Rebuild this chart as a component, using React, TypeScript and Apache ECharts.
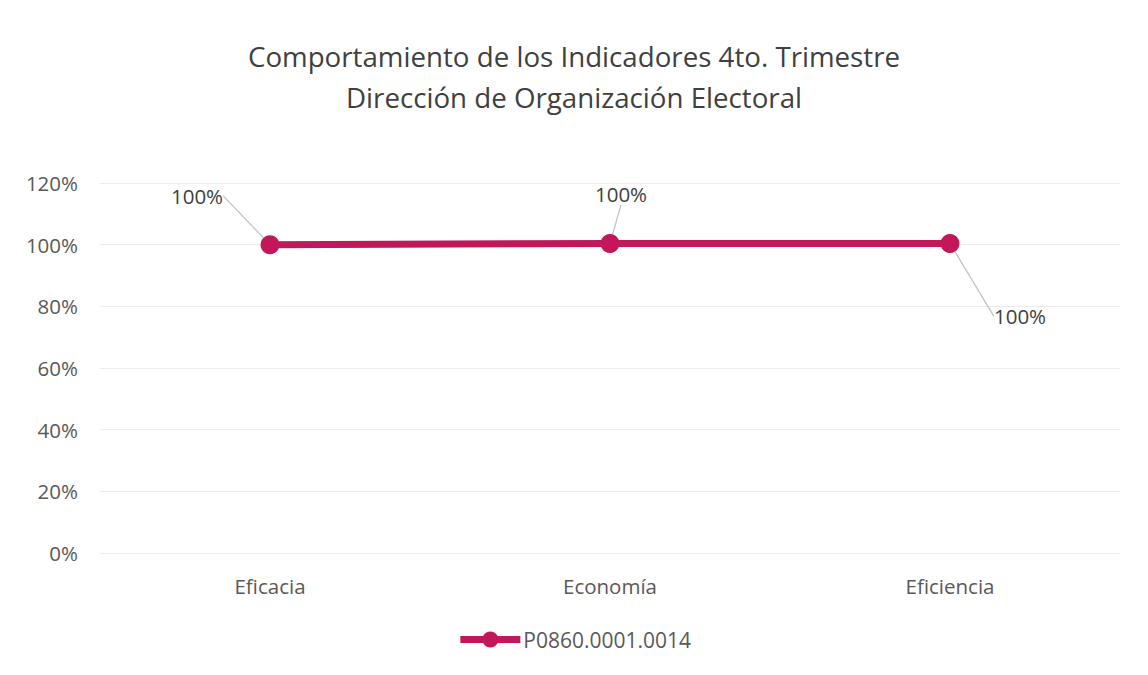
import React, { useEffect, useRef } from "react";
import * as echarts from "echarts";

const titleLines = [
  "Comportamiento de los Indicadores 4to. Trimestre",
  "Dirección de Organización Electoral",
];
const categories = ["Eficacia", "Economía", "Eficiencia"];
const seriesName = "P0860.0001.0014";
const values = [1.0, 1.004, 1.004];
const yTicks = { min: 0, max: 1.2, interval: 0.2 };
const labelShift = [
  { dx: -73, dy: -24 },
  { dx: 11, dy: -24 },
  { dx: 70, dy: 98 },
];

const FONT = "'Open Sans', 'Noto Sans', sans-serif";
const COLOR = "#C2185B";

export default function App() {
  const ref = useRef<HTMLDivElement>(null);
  useEffect(() => {
    if (!ref.current) return;
    const chart = echarts.init(ref.current, undefined, { renderer: "svg" });
    chart.setOption({
      animation: false,
      backgroundColor: "#ffffff",
      title: {
        text: titleLines.join("\n"),
        left: "center",
        top: 30,
        textStyle: {
          fontFamily: FONT,
          fontSize: 27.7,
          fontWeight: "normal",
          color: "#404040",
          lineHeight: 41,
        },
      },
      grid: { left: 100, right: 28, top: 183, bottom: 122 },
      legend: {
        bottom: 20,
        left: "center",
        itemWidth: 60,
        itemHeight: 20,
        itemGap: 2,
        lineStyle: { width: 7 },
        textStyle: { fontFamily: FONT, fontSize: 21, color: "#595959", padding: [0, 0, 0, -2] },
        data: [seriesName],
      },
      xAxis: {
        type: "category",
        data: categories,
        axisLine: { show: false },
        axisTick: { show: false },
        axisLabel: { fontFamily: FONT, fontSize: 20.5, color: "#595959", margin: 22 },
      },
      yAxis: {
        type: "value",
        min: yTicks.min,
        max: yTicks.max,
        interval: yTicks.interval,
        axisLine: { show: false },
        axisTick: { show: false },
        splitLine: { lineStyle: { color: "#ececec", width: 1 } },
        axisLabel: {
          fontFamily: FONT,
          fontSize: 20.5,
          color: "#595959",
          margin: 22,
          formatter: (v: number) => Math.round(v * 100) + "%",
        },
      },
      series: [
        {
          name: seriesName,
          type: "line",
          data: values,
          symbol: "circle",
          symbolSize: 19,
          lineStyle: { color: COLOR, width: 7 },
          itemStyle: { color: COLOR },
          label: {
            show: true,
            position: "top",
            fontFamily: FONT,
            fontSize: 20.5,
            color: "#404040",
            formatter: (p: any) => Math.round(p.value * 100) + "%",
          },
          labelLine: {
            show: true,
            lineStyle: { color: "#bfbfbf", width: 1.2 },
          },
          labelLayout: (p: any) => labelShift[p.dataIndex],
        },
      ],
    });
    return () => chart.dispose();
  }, []);
  return (
    <div
      ref={ref}
      style={{ position: "fixed", left: 0, top: 0, width: 1148, height: 675 }}
    />
  );
}
